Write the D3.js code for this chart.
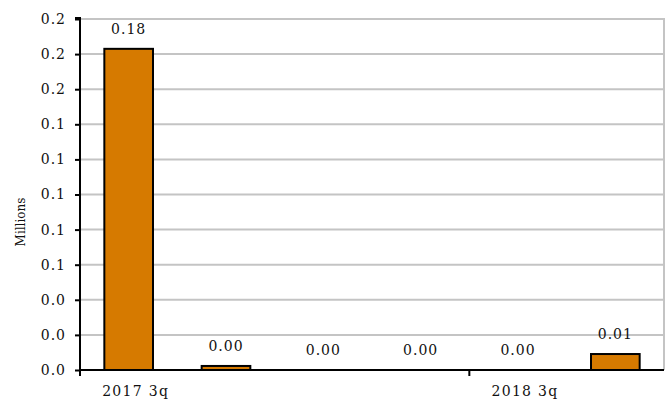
<!DOCTYPE html>
<html>
<head>
<meta charset="utf-8">
<script src="https://cdn.jsdelivr.net/npm/d3@7"></script>
<style>
  html, body { margin: 0; padding: 0; background: #fff; }
  svg text { font-family: "DejaVu Serif", serif; fill: #111; }
</style>
</head>
<body>
<svg id="chart" width="670" height="404"></svg>
<script>
// Quarterly values, in millions
const quarters = ["2017 3q", "2017 4q", "2018 1q", "2018 2q", "2018 3q", "2018 4q"];
const values = [0.183, 0.0023, 0, 0, 0, 0.0091];
const yTicks = [0, 0.02, 0.04, 0.06, 0.08, 0.10, 0.12, 0.14, 0.16, 0.18, 0.20];
const shownQuarters = ["2017 3q", "2018 3q"];
const axisTitle = "Millions";

const svg = d3.select("#chart");
const plotLeft = 80, plotRight = 664, plotTop = 19, plotBottom = 370;

const x = d3.scaleBand().domain(quarters).range([plotLeft, plotRight]).paddingInner(0).paddingOuter(0);
const y = d3.scaleLinear().domain([0, 0.2]).range([plotBottom, plotTop]);

// horizontal gridlines
svg.append("g").selectAll("line").data(yTicks.slice(1)).join("line")
  .attr("x1", plotLeft).attr("x2", plotRight)
  .attr("y1", d => y(d)).attr("y2", d => y(d))
  .attr("stroke", "#c4c4c4").attr("stroke-width", 2);

// right frame edge
svg.append("line")
  .attr("x1", plotRight).attr("x2", plotRight).attr("y1", plotTop - 1).attr("y2", plotBottom)
  .attr("stroke", "#c4c4c4").attr("stroke-width", 2);

// bars
const bw = x.bandwidth() * 0.5;
svg.append("g").selectAll("rect").data(values).join("rect")
  .attr("x", (d, i) => x(quarters[i]) + (x.bandwidth() - bw) / 2)
  .attr("width", bw)
  .attr("y", d => y(d))
  .attr("height", d => plotBottom - y(d))
  .attr("fill", "#d67a00")
  .attr("stroke", d => d > 0 ? "#000" : "none")
  .attr("stroke-width", 2);

// value labels
svg.append("g").selectAll("text").data(values).join("text")
  .attr("x", (d, i) => x(quarters[i]) + x.bandwidth() / 2)
  .attr("y", d => y(d) - 15)
  .attr("text-anchor", "middle")
  .attr("font-size", 14)
  .attr("letter-spacing", 1)
  .text(d => d3.format(".2f")(d));

// y axis
const yAxis = d3.axisLeft(y).tickValues(yTicks).tickFormat(d3.format(".1f"))
  .tickSize(5).tickPadding(9);
const gy = svg.append("g").attr("transform", `translate(${plotLeft},0)`).call(yAxis);
gy.select(".domain").attr("d", `M-5,${plotTop - 1}H0V${plotBottom + 1}`).attr("stroke", "#000").attr("stroke-width", 2);
gy.selectAll(".tick line").attr("stroke", "#000").attr("stroke-width", 2);
gy.selectAll(".tick text").attr("font-size", 14).attr("letter-spacing", 1)
  .attr("font-family", "DejaVu Serif, serif").attr("fill", "#111");

// x axis line and tick marks at every fourth category boundary
svg.append("line")
  .attr("x1", plotLeft).attr("x2", plotRight).attr("y1", plotBottom).attr("y2", plotBottom)
  .attr("stroke", "#000").attr("stroke-width", 2);
const boundaryIdx = [0, 4];
svg.append("g").selectAll("line").data(boundaryIdx).join("line")
  .attr("x1", i => x(quarters[i])).attr("x2", i => x(quarters[i]))
  .attr("y1", plotBottom).attr("y2", plotBottom + 6)
  .attr("stroke", "#000").attr("stroke-width", 2);

// category labels
svg.append("g").selectAll("text").data(shownQuarters).join("text")
  .attr("x", d => x(d) + x.bandwidth() / 2 + 7)
  .attr("y", 396)
  .attr("text-anchor", "middle")
  .attr("font-size", 14)
  .attr("letter-spacing", 1.3)
  .text(d => d);

// axis title
svg.append("text")
  .attr("transform", "translate(25,222) rotate(-90)")
  .attr("text-anchor", "middle")
  .attr("font-size", 12)
  .text(axisTitle);
</script>
</body>
</html>
